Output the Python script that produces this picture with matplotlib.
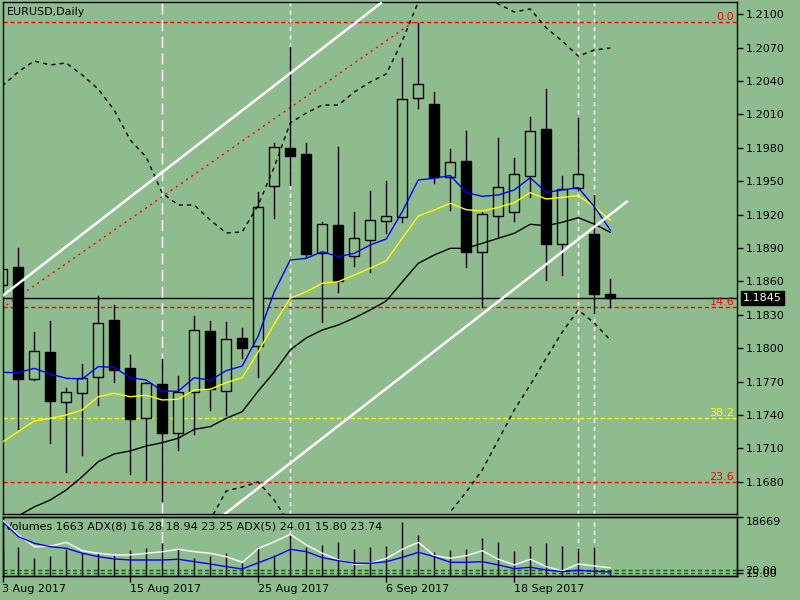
import matplotlib.pyplot as plt
from matplotlib.patches import Rectangle

# EURUSD daily, 3 Aug - 26 Sep 2017 (one entry per trading day)
opens = [1.18568, 1.18730, 1.17728, 1.17967, 1.17521, 1.17597, 1.17746, 1.18255, 1.17824, 1.17372,
         1.17680, 1.17237, 1.17606, 1.18156, 1.17620, 1.18090, 1.18021, 1.19455, 1.19797, 1.19745,
         1.18859, 1.19108, 1.18832, 1.18970, 1.19141, 1.19177, 1.20246, 1.20194, 1.19536, 1.19683,
         1.18868, 1.19191, 1.19222, 1.19551, 1.19970, 1.18935, 1.19437, 1.19027, 1.18486]
highs = [1.18750, 1.18904, 1.18147, 1.18249, 1.17644, 1.17860, 1.18470, 1.18389, 1.17940, 1.17700,
         1.17902, 1.17752, 1.18291, 1.18249, 1.18234, 1.18183, 1.19407, 1.19842, 1.20704, 1.19842,
         1.19135, 1.19811, 1.19222, 1.19413, 1.19503, 1.20610, 1.20919, 1.20305, 1.19790, 1.19952,
         1.19227, 1.19886, 1.19707, 1.20080, 1.20329, 1.19548, 1.20066, 1.19377, 1.18623]
lows = [1.18500, 1.17275, 1.17716, 1.17153, 1.16893, 1.17043, 1.17492, 1.17701, 1.16872, 1.16818,
        1.16632, 1.17087, 1.17231, 1.17447, 1.17402, 1.17914, 1.17746, 1.19173, 1.19467, 1.18823,
        1.18237, 1.18509, 1.18742, 1.18683, 1.19033, 1.19138, 1.20156, 1.19482, 1.19243, 1.18733,
        1.18374, 1.19012, 1.19147, 1.19362, 1.18614, 1.18659, 1.19422, 1.18315, 1.18369]
closes = [1.18712, 1.17727, 1.17974, 1.17530, 1.17606, 1.17731, 1.18225, 1.17806, 1.17363, 1.17686,
          1.17243, 1.17611, 1.18165, 1.17632, 1.18081, 1.18001, 1.19267, 1.19806, 1.19730, 1.18847,
          1.19117, 1.18608, 1.18988, 1.19150, 1.19186, 1.20237, 1.20371, 1.19542, 1.19671, 1.18863,
          1.19204, 1.19446, 1.19563, 1.19952, 1.18937, 1.19431, 1.19563, 1.18491, 1.18450]

# moving averages
ma_blue = [1.17784, 1.17781, 1.17820, 1.17769, 1.17731, 1.17724, 1.17835, 1.17829, 1.17736, 1.17715,
           1.17616, 1.17614, 1.17736, 1.17713, 1.17799, 1.17841, 1.18110, 1.18506, 1.18793, 1.18808,
           1.18868, 1.18823, 1.18853, 1.18928, 1.18982, 1.19227, 1.19512, 1.19527, 1.19552, 1.19399,
           1.19365, 1.19377, 1.19422, 1.19532, 1.19401, 1.19422, 1.19443, 1.19272, 1.19063]
ma_yellow = [1.17156, 1.17251, 1.17347, 1.17371, 1.17401, 1.17446, 1.17565, 1.17596, 1.17565, 1.17578,
             1.17536, 1.17542, 1.17625, 1.17632, 1.17691, 1.17736, 1.17967, 1.18218, 1.18449, 1.18508,
             1.18584, 1.18598, 1.18658, 1.18719, 1.18787, 1.18988, 1.19188, 1.19242, 1.19302, 1.19245,
             1.19233, 1.19266, 1.19308, 1.19398, 1.19341, 1.19356, 1.19371, 1.19272, 1.19152]
ma_black = [1.16440, 1.16494, 1.16575, 1.16637, 1.16727, 1.16847, 1.16981, 1.17051, 1.17078, 1.17122,
            1.17152, 1.17192, 1.17272, 1.17296, 1.17371, 1.17431, 1.17616, 1.17787, 1.17985, 1.18093,
            1.18164, 1.18209, 1.18272, 1.18344, 1.18425, 1.18596, 1.18763, 1.18838, 1.18898, 1.18898,
            1.18943, 1.18988, 1.19033, 1.19114, 1.19101, 1.19132, 1.19173, 1.19116, 1.19042]

# bands
band_upper = [1.20356, 1.20482, 1.20581, 1.20545, 1.20563, 1.20455, 1.20329, 1.20140, 1.19871, 1.19718,
              1.19395, 1.19287, 1.19287, 1.19152, 1.19036, 1.19045, 1.19287, 1.19628, 1.20024, 1.20113,
              1.20185, 1.20185, 1.20302, 1.20392, 1.20464, 1.20760, 1.21110, 1.21308, 1.21353, 1.21290,
              1.21173, 1.21093, 1.21021, 1.21048, 1.20877, 1.20760, 1.20625, 1.20679, 1.20697]
band_lower = [1.15739, 1.15694, 1.15649, 1.15667, 1.15694, 1.15739, 1.15784, 1.15829, 1.15874, 1.15901,
              1.15964, 1.16098, 1.16278, 1.16458, 1.16718, 1.16754, 1.16799, 1.16637, 1.16413, 1.16233,
              1.16098, 1.16009, 1.15937, 1.15919, 1.15964, 1.16054, 1.16188, 1.16278, 1.16530, 1.16709,
              1.16907, 1.17176, 1.17446, 1.17671, 1.17913, 1.18146, 1.18344, 1.18227, 1.18075]

volumes = [9000, 9176, 5505, 6233, 8353, 7087, 7087, 6549, 8131, 8669,
           10251, 8353, 5505, 6233, 7087, 4113, 9176, 6549, 12877, 9176,
           9713, 10758, 8353, 9176, 9397, 17086, 12877, 7594, 8131, 8353,
           11833, 10568, 7815, 9397, 10251, 9397, 8669, 8986, 1663]
adx5 = [112.5, 84.8, 63.1, 64.4, 71.2, 55.7, 50.9, 47.8, 47.8, 50.9,
        53.9, 58.3, 53.9, 50.9, 44.6, 34.2, 60.1, 72.4, 86.0, 66.3,
        50.9, 38.5, 30.5, 32.4, 41.6, 58.3, 71.2, 46.5, 41.6, 46.5,
        55.7, 39.8, 29.3, 39.8, 26.1, 18.2, 31.1, 27.4, 24.01]
adx8 = [109.4, 81.6, 69.4, 63.1, 60.1, 50.9, 44.6, 40.4, 38.5, 38.5,
        38.5, 39.8, 35.4, 31.1, 26.1, 21.9, 33.5, 44.6, 58.3, 53.9,
        42.8, 37.2, 32.4, 32.4, 35.4, 43.5, 52.7, 44.6, 34.2, 34.2,
        35.4, 29.3, 22.4, 25.0, 20.0, 16.9, 19.4, 17.6, 16.28]
adx_levels = [20, 15]

date_ticks = [0, 8, 16, 24, 32]
date_labels = ["3 Aug 2017", "15 Aug 2017", "25 Aug 2017", "6 Sep 2017", "18 Sep 2017"]
price_ticks = [1.2100, 1.2070, 1.2040, 1.2010, 1.1980, 1.1950, 1.1920, 1.1890,
               1.1860, 1.1830, 1.1800, 1.1770, 1.1740, 1.1710, 1.1680]

fib_prices = [1.20928, 1.18368, 1.17371, 1.16796]
fib_labels = ["0.0", "14.6", "38.2", "23.6"]
fib_colors = ["red", "red", "yellow", "red"]
fib_base = [(0.275, 1.18389), (25.67, 1.20928)]
channel_upper = [(0.04, 1.18473), (23.67, 1.21101)]
channel_lower = [(13.92, 1.16512), (39.03, 1.19317)]
vlines_long = [10]
vlines_short = [18, 36, 37]
bid = 1.1845

BG = "#8FBC8F"
plt.rcParams['font.family'] = ['DejaVu Sans']
plt.rcParams['font.size'] = 8

fig = plt.figure(figsize=(8, 6), dpi=100, facecolor=BG)
ax = fig.add_axes([2.5 / 800, (600 - 514.3) / 600, 734.5 / 800, 512 / 600], facecolor=BG)
axv = fig.add_axes([2.5 / 800, (600 - 575.7) / 600, 734.5 / 800, 59 / 600], facecolor=BG)

bars = list(range(len(opens)))
xmin, xmax = 0.02, 45.92

# === MAIN PRICE PANEL ===
for i in bars:
    o, h, l, c = opens[i], highs[i], lows[i], closes[i]
    top, bot = max(o, c), min(o, c)
    ax.plot([i, i], [top, h], color="black", lw=1, zorder=2)
    ax.plot([i, i], [l, bot], color="black", lw=1, zorder=2)
    face = "black" if c < o else BG
    ax.add_patch(Rectangle((i - 0.31, bot), 0.62, max(top - bot, 0.00003),
                           facecolor=face, edgecolor="black", lw=1, zorder=2))

ax.plot(bars, ma_black, color="black", lw=1, zorder=3)
ax.plot(bars, ma_yellow, color="yellow", lw=1, zorder=3)
ax.plot(bars, ma_blue, color="blue", lw=1, zorder=3)
ax.plot(bars, band_upper, color="black", lw=1, dashes=(3, 3), zorder=3)
ax.plot(bars, band_lower, color="black", lw=1, dashes=(3, 3), zorder=3)

for p, lab, col in zip(fib_prices, fib_labels, fib_colors):
    ax.axhline(p, color=col, lw=1, dashes=(3, 2), zorder=1)
    ax.annotate(lab, xy=(1.0, p), xycoords=ax.get_yaxis_transform(), xytext=(-2, 0.5),
                textcoords="offset points", ha="right", va="bottom", color=col, fontsize=8)
ax.plot([q[0] for q in fib_base], [q[1] for q in fib_base], color="red", lw=1, dashes=(1.5, 3), zorder=1)

for seg in (channel_upper, channel_lower):
    ax.plot([q[0] for q in seg], [q[1] for q in seg], color="white", lw=1.8, zorder=4)

ax.axhline(bid, color="black", lw=1, zorder=1)

for a in (ax, axv):
    for b in vlines_long:
        a.axvline(b, color="white", lw=1, dashes=(8, 4), zorder=1)
    for b in vlines_short:
        a.axvline(b, color="white", lw=1, dashes=(3, 3), zorder=1)

ax.set_xlim(xmin, xmax)
ax.set_ylim(1.165088, 1.211078)
ax.set_xticks([])
ax.yaxis.tick_right()
ax.set_yticks(price_ticks)
ax.set_yticklabels([f"{t:.4f}" for t in price_ticks])
ax.tick_params(axis="y", direction="out", length=4, width=1, pad=2, labelsize=8, colors="black")
ax.text(0.006, 0.981, "EURUSD,Daily", transform=ax.transAxes, ha="left", va="center", fontsize=8)
ax.text(1.008, bid, "1.1845", transform=ax.get_yaxis_transform(), ha="left", va="center",
        color="white", fontsize=8,
        bbox=dict(facecolor="black", edgecolor="black", boxstyle="square,pad=0.2"))

# === VOLUME / ADX PANEL ===
axv.vlines(bars, 0, volumes, color="black", lw=1, zorder=2)
axv.set_xlim(xmin, xmax)
axv.set_ylim(0, 18669)
axv.set_xticks(date_ticks)
axv.set_xticklabels(date_labels, ha="left")

axa = axv.twinx()
axa.set_ylim(9.4, 118.7)
axa.plot(bars, adx5, color="white", lw=1, zorder=3)
axa.plot(bars, adx8, color="blue", lw=1, zorder=3)
for lv in adx_levels:
    axa.axhline(lv, color="#006400", lw=1, dashes=(3, 2), zorder=1)
axa.set_yticks(adx_levels)
axa.set_yticklabels([f"{lv:.2f}" for lv in adx_levels])
axa.tick_params(direction="out", length=4, width=1, pad=2, labelsize=8, colors="black")

# twinx moves the volume ticks to the left, put them back on the right
axv.yaxis.tick_right()
axv.set_yticks([18669])
axv.set_yticklabels(["18669"], va="top")
axv.tick_params(direction="out", length=4, width=1, pad=2, labelsize=8, colors="black")

axv.text(0.004, 0.83, "Volumes 1663 ADX(8) 16.28 18.94 23.25 ADX(5) 24.01 15.80 23.74",
         transform=axv.transAxes, ha="left", va="center", fontsize=8)

for a in (ax, axv, axa):
    for s in a.spines.values():
        s.set_color("black")
        s.set_linewidth(1)

fig.savefig("out.png", dpi=100, facecolor=BG)
